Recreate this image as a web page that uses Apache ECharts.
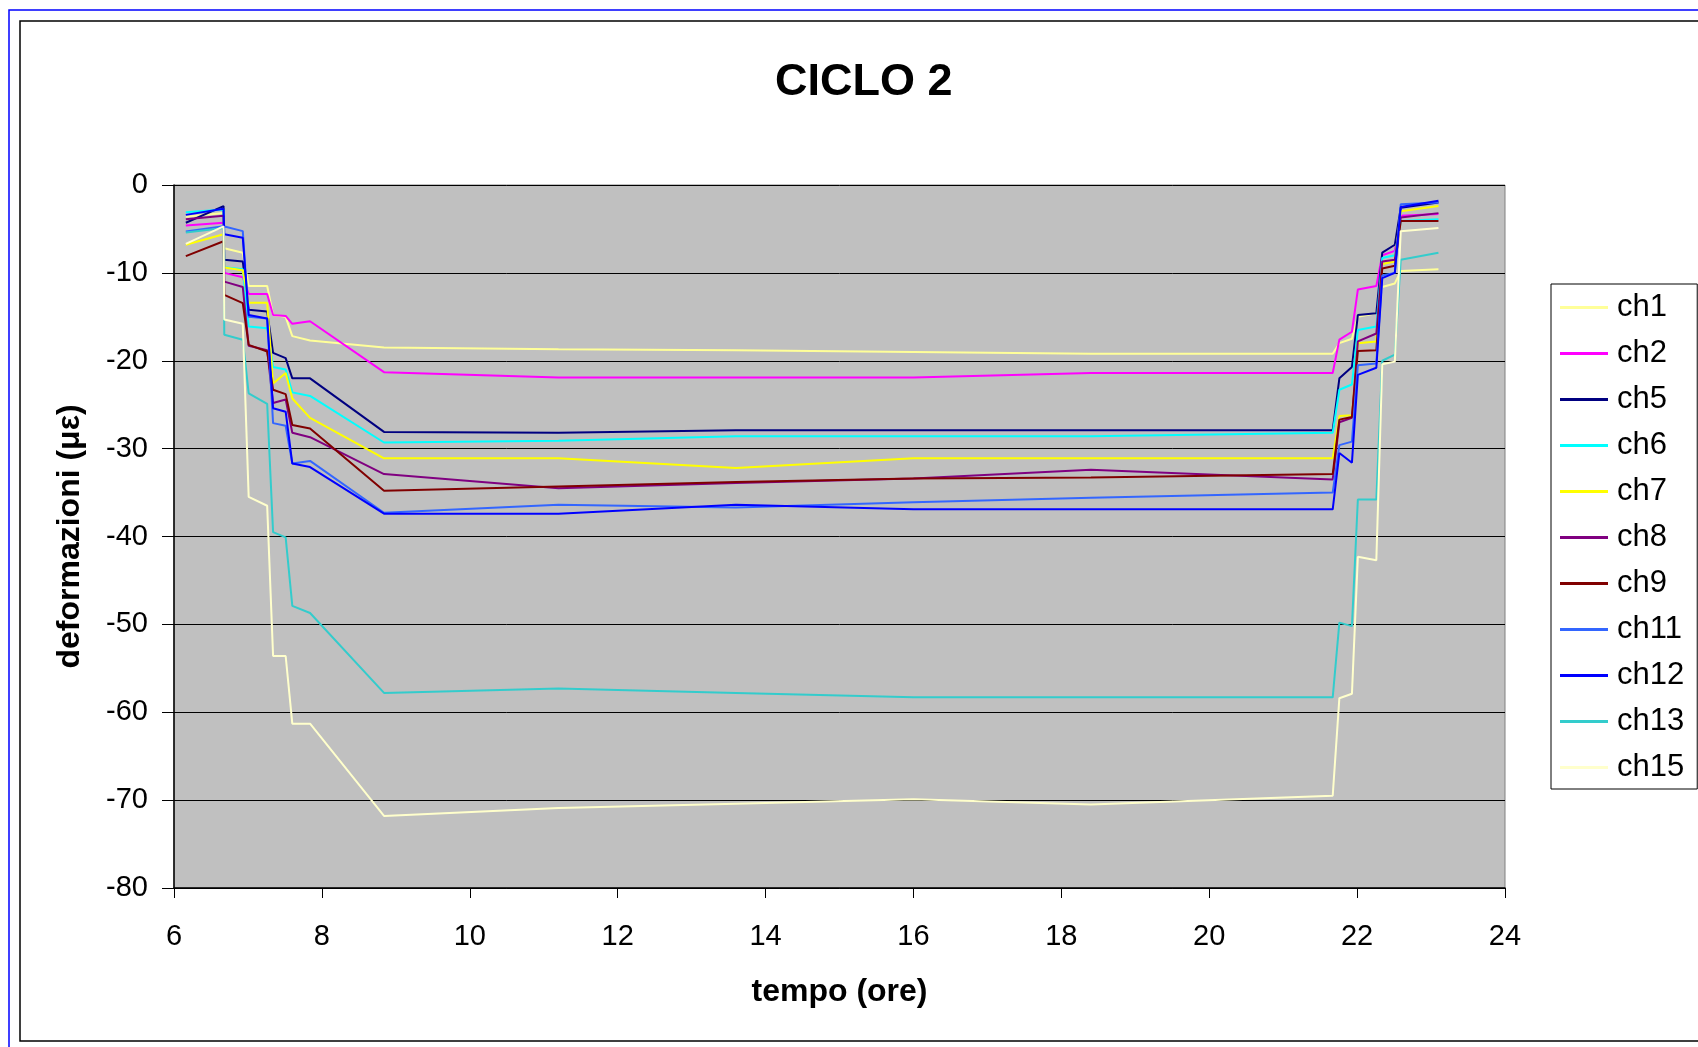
<!DOCTYPE html>
<html>
<head>
<meta charset="utf-8">
<script src="https://cdn.jsdelivr.net/npm/echarts@6/dist/echarts.min.js"></script>
<style>
html,body{margin:0;padding:0;background:#fff;}
#c{width:1698px;height:1047px;}
</style>
</head>
<body>
<div id="c"></div>
<script>
var times = [6.16, 6.67, 6.68, 6.93, 7.01, 7.26, 7.34, 7.51, 7.60, 7.84, 8.84, 11.2, 13.6, 16.0, 18.4, 21.67, 21.76, 21.93, 22.01, 22.26, 22.34, 22.51, 22.59, 23.10];
var ch1  = [-3.6, -3.2, -7.2, -7.7, -11.5, -11.5, -14.8, -15.0, -17.2, -17.7, -18.5, -18.7, -18.8, -19.0, -19.2, -19.2, -18.0, -17.5, -15.0, -14.6, -11.6, -11.2, -9.8, -9.6];
var ch2  = [-4.6, -4.3, -10.0, -10.5, -12.4, -12.4, -14.8, -14.9, -15.8, -15.5, -21.3, -21.9, -21.9, -21.9, -21.4, -21.4, -17.6, -16.7, -11.9, -11.5, -8.0, -7.5, -3.5, -3.3];
var ch5  = [-4.3, -2.4, -8.5, -8.7, -14.2, -14.4, -19.1, -19.7, -22.0, -22.0, -28.1, -28.2, -27.9, -27.9, -27.9, -27.9, -22.0, -20.7, -14.8, -14.6, -7.7, -6.8, -2.6, -2.0];
var ch6  = [-3.1, -2.8, -9.35, -9.6, -16.1, -16.3, -20.7, -21.0, -23.6, -24.0, -29.3, -29.1, -28.6, -28.6, -28.6, -28.2, -23.3, -22.7, -16.5, -16.1, -8.3, -8.0, -4.1, -3.9];
var ch7  = [-6.8, -5.6, -9.4, -9.7, -13.4, -13.4, -22.6, -21.4, -24.3, -26.5, -31.1, -31.1, -32.2, -31.1, -31.1, -31.1, -26.3, -26.2, -18.0, -17.8, -9.0, -8.7, -3.0, -2.4];
var ch8  = [-3.9, -3.5, -11.0, -11.6, -18.3, -18.8, -24.8, -24.4, -28.2, -28.7, -32.9, -34.5, -33.9, -33.4, -32.4, -33.5, -27.0, -26.5, -17.8, -16.9, -8.7, -8.5, -3.7, -3.2];
var ch9  = [-8.1, -6.4, -12.5, -13.45, -18.2, -18.95, -23.3, -23.8, -27.3, -27.7, -34.8, -34.3, -33.8, -33.4, -33.3, -32.9, -26.7, -26.4, -18.9, -18.8, -9.5, -9.2, -4.1, -4.1];
var ch11 = [-5.3, -4.7, -4.7, -5.25, -15.0, -15.2, -27.1, -27.4, -31.7, -31.4, -37.3, -36.4, -36.7, -36.1, -35.6, -35.0, -29.6, -29.2, -20.5, -20.3, -10.3, -10.0, -2.2, -2.0];
var ch12 = [-3.4, -2.7, -5.6, -6.0, -14.8, -15.2, -25.4, -25.8, -31.7, -32.1, -37.4, -37.4, -36.4, -36.9, -36.9, -36.9, -30.5, -31.6, -21.6, -20.8, -10.6, -10.0, -2.5, -1.8];
var ch13 = [-5.4, -4.9, -17.05, -17.6, -23.7, -24.9, -39.5, -40.1, -47.9, -48.7, -57.8, -57.3, -57.8, -58.3, -58.3, -58.3, -49.8, -50.2, -35.8, -35.8, -20.0, -19.3, -8.5, -7.7];
var ch15 = [-6.7, -4.7, -15.3, -15.8, -35.5, -36.5, -53.6, -53.6, -61.3, -61.3, -71.8, -70.9, -70.4, -69.9, -70.5, -69.5, -58.4, -57.9, -42.3, -42.7, -20.4, -20.1, -5.25, -4.9];

var seriesNames = ['ch1','ch2','ch5','ch6','ch7','ch8','ch9','ch11','ch12','ch13','ch15'];
var seriesValues = [ch1, ch2, ch5, ch6, ch7, ch8, ch9, ch11, ch12, ch13, ch15];
var seriesColors = ['#FFFF99','#FF00FF','#000080','#00FFFF','#FFFF00','#800080','#800000','#3366FF','#0000FF','#33CCCC','#FFFFCC'];

var xTicks = {min: 6, max: 24, interval: 2};
var yTicks = {min: -80, max: 0, interval: 10};

var FONT = '"Liberation Sans", Arial, sans-serif';

var chart = echarts.init(document.getElementById('c'), null, {renderer: 'canvas'});

var series = seriesNames.map(function (n, i) {
  return {
    name: n,
    type: 'line',
    showSymbol: false,
    symbol: 'none',
    animation: false,
    lineStyle: {color: seriesColors[i], width: 2},
    itemStyle: {color: seriesColors[i]},
    data: times.map(function (t, k) { return [t, seriesValues[i][k]]; })
  };
});

chart.setOption({
  animation: false,
  backgroundColor: '#ffffff',
  title: {
    text: 'CICLO 2',
    left: 775,
    top: 60,
    padding: 0,
    textStyle: {fontFamily: FONT, fontSize: 45, fontWeight: 'bold', color: '#000'}
  },
  graphic: [
    {type: 'rect', z: -10, silent: true, shape: {x: 9, y: 10, width: 1720, height: 1100}, style: {fill: null, stroke: '#0000FF', lineWidth: 1.5}},
    {type: 'rect', z: -9, silent: true, shape: {x: 20, y: 21, width: 1720, height: 1020}, style: {fill: null, stroke: '#000000', lineWidth: 1.5}}
  ],
  legend: {
    orient: 'vertical',
    left: 1551,
    top: 284,
    padding: [8, 13, 6, 9],
    itemGap: 15,
    itemWidth: 48,
    itemHeight: 3,
    icon: 'rect',
    borderColor: '#000',
    borderWidth: 1,
    backgroundColor: '#fff',
    textStyle: {fontFamily: FONT, fontSize: 31, color: '#000', lineHeight: 30, padding: [0, 0, 0, 4]},
    data: seriesNames
  },
  grid: {
    left: 174, top: 185, right: 193, bottom: 159,
    show: true,
    backgroundColor: '#C0C0C0',
    borderColor: '#808080',
    borderWidth: 1,
    containLabel: false
  },
  xAxis: {
    type: 'value',
    min: xTicks.min, max: xTicks.max, interval: xTicks.interval,
    name: 'tempo (ore)',
    nameLocation: 'middle',
    nameGap: 88,
    nameTextStyle: {fontFamily: FONT, fontSize: 32, fontWeight: 'bold', color: '#000'},
    axisLine: {show: true, onZero: false, lineStyle: {color: '#000', width: 1.5}},
    axisTick: {show: true, inside: false, length: 10, lineStyle: {color: '#000'}},
    axisLabel: {fontFamily: FONT, fontSize: 29, color: '#000', margin: 34},
    splitLine: {show: false}
  },
  yAxis: {
    type: 'value',
    min: yTicks.min, max: yTicks.max, interval: yTicks.interval,
    name: 'deformazioni (με)',
    nameLocation: 'middle',
    nameRotate: 90,
    nameGap: 88,
    nameTextStyle: {fontFamily: FONT, fontSize: 32, fontWeight: 'bold', color: '#000'},
    axisLine: {show: true, onZero: false, lineStyle: {color: '#000', width: 1.5}},
    axisTick: {show: true, inside: false, length: 12, lineStyle: {color: '#000'}},
    axisLabel: {fontFamily: FONT, fontSize: 29, color: '#000', margin: 26},
    splitLine: {show: true, lineStyle: {color: '#000', width: 1}}
  },
  series: series
});
</script>
</body>
</html>
